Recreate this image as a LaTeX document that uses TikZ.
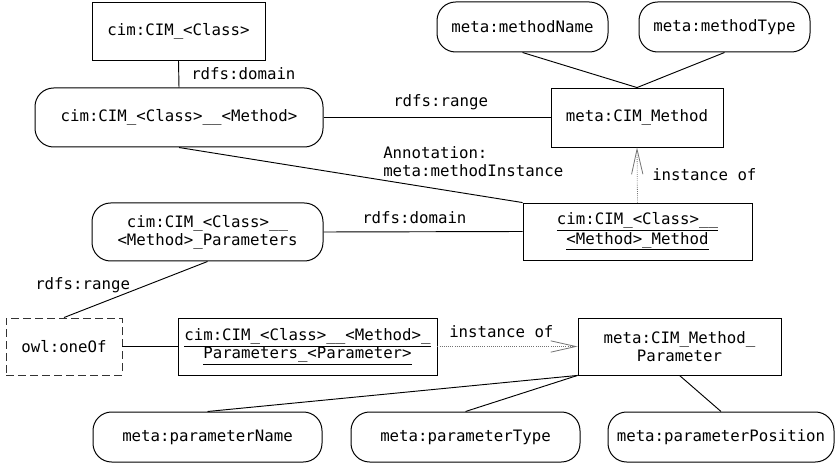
\documentclass[tikz,border=0pt]{standalone}
\usepackage{fontspec}
\setmainfont{DejaVu Sans Mono}
\usetikzlibrary{arrows.meta}
\newcommand{\mkbox}[7]{%
  \pgfmathsetmacro\mkbw{(#5-#3)*0.75}%
  \pgfmathsetmacro\mkbh{(#6-#4)*0.75}%
  \node[#1, minimum width=\mkbw pt, minimum height=\mkbh pt] (#2) at ({(#3+#5)/2},{(#4+#6)/2}) {#7};}
\tikzset{
  every node/.style={font=\fontsize{11.8}{13.5}\selectfont, inner sep=0pt},
  sqbox/.style={draw, line width=0.65pt, align=center},
  rndbox/.style={draw, line width=0.75pt, rounded corners=14pt, align=center},
  dashbox/.style={draw=black!80, line width=0.7pt, dash pattern=on 6pt off 3pt, align=center},
  conn/.style={line width=0.7pt},
  inst/.style={draw=black!55, line width=0.6pt, densely dotted,
    -{Straight Barb[length=18.75pt, width=8.5pt, line width=0.6pt]}},
  lbl/.style={anchor=west, align=left},
}
\begin{document}
\begin{tikzpicture}[x=0.75pt, y=-0.75pt]
\useasboundingbox (0,0) rectangle (835,463);
% nodes
\mkbox{sqbox}{c1}{92}{2}{265}{60}{cim:CIM\_<Class>}
\mkbox{rndbox}{m1}{35}{88}{323}{147}{cim:CIM\_<Class>\_\_<Method>}
\mkbox{rndbox}{mn}{437}{2}{608}{52}{meta:methodName}
\mkbox{rndbox}{mt}{639}{2}{810}{52}{meta:methodType}
\mkbox{sqbox}{cm}{551}{88}{723}{147}{meta:CIM\_Method}
\mkbox{sqbox}{mm}{523}{203}{752}{260}{\underline{cim:CIM\_<Class>\_\_}\\\underline{<Method>\_Method}}
\mkbox{rndbox}{p1}{92}{203}{323}{261}{cim:CIM\_<Class>\_\_\\<Method>\_Parameters}
\mkbox{dashbox}{owl}{6}{318}{122}{375}{owl:oneOf}
\mkbox{sqbox}{pp}{178}{318}{437}{375}{\underline{cim:CIM\_<Class>\_\_<Method>\_}\\\underline{Parameters\_<Parameter>}}
\mkbox{sqbox}{mp}{578}{318}{781}{375}{meta:CIM\_Method\_\\Parameter}
\mkbox{rndbox}{pn}{93}{412}{322}{462}{meta:parameterName}
\mkbox{rndbox}{pt}{351}{412}{580}{462}{meta:parameterType}
\mkbox{rndbox}{ppos}{608}{412}{834}{462}{meta:parameterPosition}
% connectors
\draw[conn] (c1.south) -- (m1.north);
\draw[conn] (m1.east) -- (cm.west);
\draw[conn] (mn.south) -- (cm.north);
\draw[conn] (mt.south) -- (cm.north);
\draw[conn] (m1.south) -- (mm.north west);
\draw[inst] (mm.north) -- (cm.south);
\draw[conn] (p1.east) -- (mm.west);
\draw[conn] (p1.south) -- (owl.north);
\draw[conn] (owl.east) -- (pp.west);
\draw[inst] (pp.east) -- (mp.west);
\draw[conn] (mp.south west) -- (pn.north);
\draw[conn] (mp.south west) -- (pt.north);
\draw[conn] (mp.south) -- (ppos.north);
% labels
\node[lbl] (l1) at (191,74) {rdfs:domain};
\node[lbl] (l2) at (393,102) {rdfs:range};
\node[lbl] (l3) at (383,162) {Annotation:\\meta:methodInstance};
\node[lbl] (l4) at (652,175) {instance of};
\node[lbl] (l5) at (362,218) {rdfs:domain};
\node[lbl] (l6) at (35,285) {rdfs:range};
\node[lbl] (l7) at (449,332) {instance of};
\end{tikzpicture}
\end{document}
